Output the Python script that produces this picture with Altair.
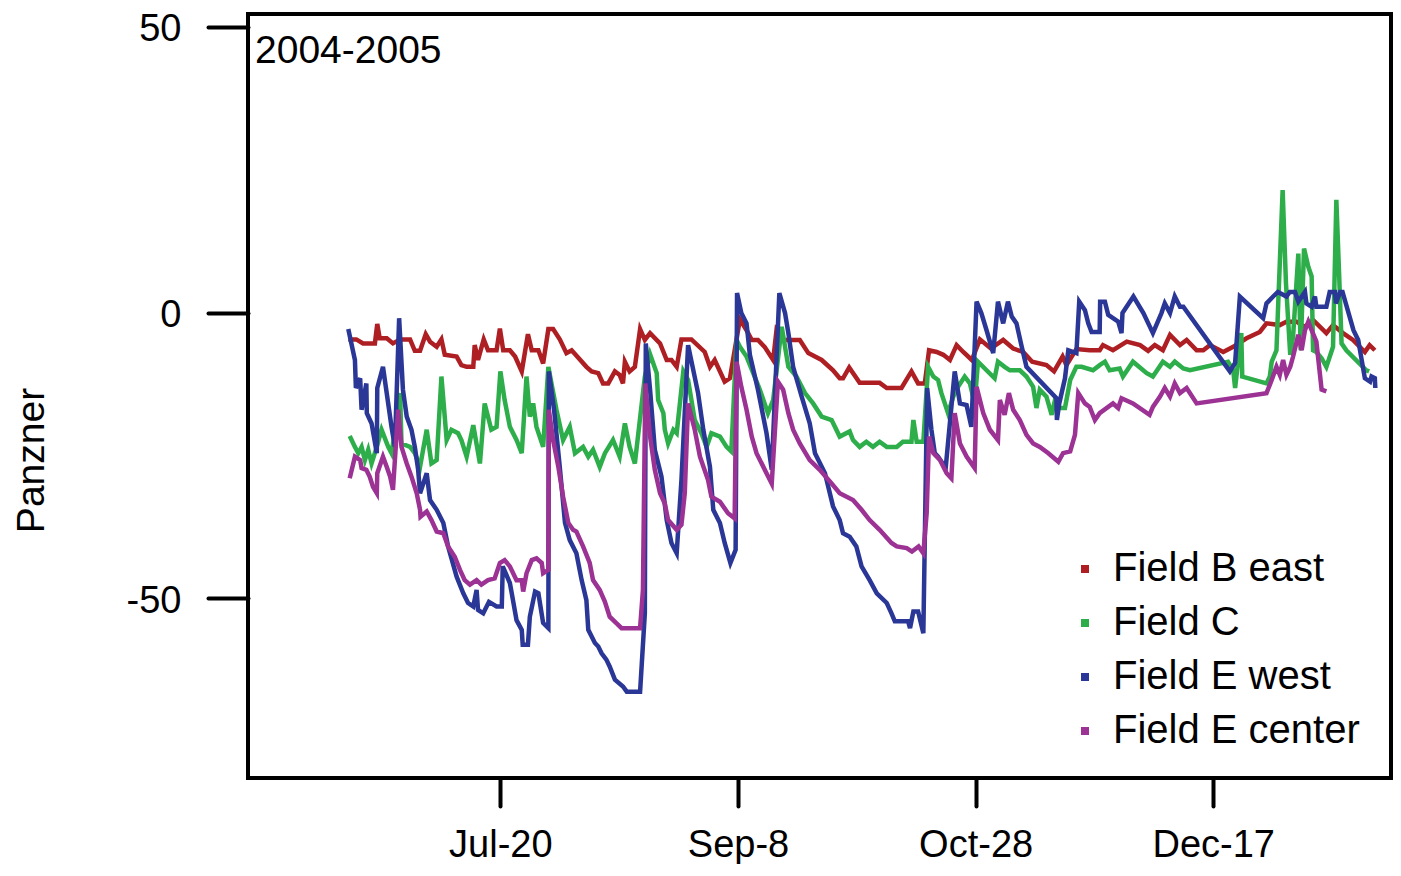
import altair as alt
import pandas as pd

# ---------------- data ----------------
series_names = ["Field B east", "Field C", "Field E west", "Field E center"]
series_colors = ["#AE1F24", "#2DAE4B", "#2A3796", "#9B3294"]

# x = days after Jul-20-2004, tick labels
tick_days = [0, 50, 100, 150]
tick_labels = ["Jul-20", "Sep-8", "Oct-28", "Dec-17"]
y_ticks = [-50, 0, 50]
period_label = "2004-2005"
y_title = "Panzner"

# (day, value) pairs per series
field_b_east = [(-32.0,-4.7),(-30.3,-4.7),(-28.9,-5.4),(-26.4,-5.4),(-25.9,-2.0),(-25.4,-4.5),(-23.9,-4.5),(-22.6,-5.4),(-21.1,-4.7),(-19.0,-4.7),(-18.0,-6.7),(-16.9,-6.7),(-15.7,-3.8),(-14.8,-5.1),(-13.4,-6.0),(-12.4,-4.7),(-11.7,-7.4),(-9.2,-7.7),(-8.2,-9.2),(-7.1,-9.5),(-5.7,-9.5),(-5.4,-5.7),(-4.7,-8.3),(-3.5,-4.7),(-2.6,-6.6),(-0.8,-6.6),(-0.1,-2.8),(0.6,-6.6),(2.0,-6.6),(3.1,-7.7),(4.5,-10.3),(5.8,-3.8),(6.6,-6.6),(8.0,-6.6),(9.0,-8.9),(10.1,-2.9),(11.1,-2.9),(12.5,-4.7),(13.9,-7.1),(15.0,-6.6),(18.1,-9.5),(19.2,-10.3),(20.6,-10.6),(21.6,-12.4),(22.7,-12.4),(24.1,-10.3),(25.1,-10.9),(25.8,-12.4),(26.2,-8.6),(27.2,-10.3),(28.3,-9.5),(29.4,-2.9),(30.4,-4.8),(31.5,-3.6),(33.6,-5.4),(35.0,-8.3),(36.0,-8.3),(37.1,-9.5),(38.1,-4.7),(40.2,-4.7),(43.0,-6.9),(44.1,-9.5),(45.1,-8.3),(47.2,-12.1),(48.3,-11.5),(50.4,-1.2),(51.8,-3.1),(52.9,-4.8),(54.2,-4.8),(55.6,-6.0),(57.4,-8.3),(58.1,-3.1),(59.5,-4.8),(63.0,-4.8),(64.8,-7.1),(66.2,-7.7),(67.6,-8.3),(70.0,-10.1),(71.4,-11.5),(72.1,-11.5),(73.4,-9.6),(75.6,-12.3),(79.8,-12.3),(81.3,-13.2),(84.4,-13.2),(86.5,-10.3),(87.9,-12.4),(89.3,-12.4),(90.2,-6.6),(91.8,-6.9),(93.2,-7.4),(94.6,-8.3),(96.0,-5.7),(97.4,-6.9),(99.2,-8.3),(100.9,-4.7),(103.2,-6.3),(105.8,-4.8),(107.9,-6.3),(110.0,-6.9),(111.9,-8.6),(114.9,-9.2),(116.5,-10.3),(118.3,-7.7),(119.1,-9.2),(121.2,-6.4),(124.0,-6.6),(126.1,-6.6),(126.8,-5.7),(128.9,-6.6),(131.8,-5.1),(134.6,-5.7),(136.3,-6.7),(137.7,-5.7),(139.4,-6.6),(140.9,-3.9),(143.0,-5.7),(144.4,-4.8),(146.5,-6.6),(147.9,-6.6),(149.3,-5.7),(152.1,-6.9),(154.2,-6.0),(157.0,-4.5),(159.8,-3.4),(161.2,-1.9),(164.0,-2.2),(165.4,-1.6),(167.5,-1.6),(169.3,-2.5),(171.0,-1.3),(173.8,-3.6),(175.2,-2.2),(177.3,-3.6),(179.4,-4.8),(181.9,-6.9),(182.9,-5.7),(184.0,-6.6)]

field_c = [(-31.7,-21.6),(-30.6,-23.5),(-29.9,-24.6),(-29.2,-23.5),(-28.5,-25.8),(-27.8,-24.0),(-27.1,-26.4),(-26.0,-23.5),(-25.0,-20.5),(-23.6,-23.5),(-22.9,-24.6),(-21.8,-18.8),(-21.1,-14.1),(-20.8,-22.9),(-19.0,-23.5),(-18.0,-24.6),(-16.9,-27.0),(-15.5,-20.5),(-14.5,-26.4),(-13.4,-25.8),(-12.4,-11.2),(-11.3,-22.3),(-10.3,-20.5),(-8.9,-21.1),(-8.2,-22.3),(-7.1,-25.2),(-5.7,-19.7),(-4.3,-26.4),(-3.3,-15.9),(-1.9,-20.5),(-0.8,-20.0),(0.0,-10.3),(0.9,-15.3),(2.0,-20.0),(3.4,-22.3),(4.5,-24.6),(5.5,-11.2),(6.2,-18.2),(6.9,-15.9),(7.6,-20.0),(9.0,-23.5),(10.1,-9.5),(11.8,-17.0),(13.2,-22.3),(14.6,-20.0),(15.7,-24.6),(17.4,-23.5),(18.5,-25.2),(19.5,-24.0),(20.9,-27.0),(22.0,-24.6),(23.7,-22.3),(25.1,-25.2),(26.2,-19.4),(27.2,-23.5),(28.3,-26.4),(30.4,-11.2),(31.5,-7.3),(32.9,-10.6),(33.2,-15.3),(34.3,-17.6),(34.6,-20.5),(35.3,-22.9),(36.4,-20.5),(37.1,-21.1),(38.5,-10.3),(39.5,-11.8),(40.9,-18.8),(42.3,-21.1),(43.4,-23.5),(44.4,-21.1),(46.2,-21.7),(47.6,-23.5),(48.6,-24.3),(49.7,-4.8),(50.4,-6.0),(51.8,-7.7),(53.5,-11.2),(54.6,-13.5),(56.3,-17.6),(57.4,-15.3),(59.2,-2.5),(60.6,-9.5),(62.3,-11.2),(64.1,-14.1),(65.8,-15.9),(67.6,-18.2),(69.7,-18.8),(71.4,-21.7),(73.5,-20.8),(74.2,-22.3),(75.6,-23.5),(77.0,-22.6),(78.4,-23.5),(79.8,-22.6),(81.3,-23.5),(83.4,-23.5),(84.7,-22.6),(86.5,-22.6),(86.9,-18.8),(87.6,-22.6),(89.0,-22.6),(90.0,-9.5),(91.1,-11.2),(92.1,-11.8),(92.8,-14.1),(94.2,-17.6),(95.3,-14.7),(96.3,-13.0),(97.7,-11.2),(98.8,-12.4),(99.8,-15.9),(100.5,-8.6),(102.3,-10.1),(104.0,-11.5),(104.7,-8.6),(106.1,-9.5),(107.2,-10.1),(109.3,-10.1),(110.7,-11.2),(112.1,-13.0),(112.8,-16.7),(113.5,-13.5),(114.9,-14.7),(116.0,-17.9),(116.7,-15.3),(117.7,-16.7),(118.8,-16.7),(119.9,-11.8),(121.2,-9.5),(122.3,-9.5),(124.7,-10.1),(126.1,-9.2),(127.2,-8.6),(128.2,-10.1),(130.3,-9.8),(131.0,-11.2),(133.1,-8.6),(136.0,-10.6),(137.3,-11.2),(139.4,-8.6),(140.9,-9.5),(141.9,-8.6),(143.7,-9.8),(145.1,-10.1),(153.1,-8.6),(154.2,-10.1),(154.6,-13.2),(155.9,-3.6),(156.1,-11.2),(161.2,-12.4),(161.9,-11.2),(162.3,-8.6),(163.3,-6.6),(163.7,2.2),(164.6,21.4),(165.3,5.1),(166.2,-7.4),(166.8,-4.2),(167.9,10.3),(168.4,-6.6),(169.1,11.2),(170.0,8.0),(170.7,6.3),(171.0,-6.6),(171.7,-6.9),(172.8,-8.0),(173.8,-9.5),(175.2,-6.0),(175.9,19.7),(176.5,6.3),(177.0,-5.4),(178.0,-6.6),(182.2,-10.1),(182.8,-10.3)]

field_e_west = [(-32.0,-2.9),(-30.6,-8.3),(-30.4,-13.2),(-29.5,-11.5),(-29.2,-17.0),(-28.2,-12.4),(-28.1,-17.6),(-27.1,-19.4),(-26.0,-24.6),(-25.9,-13.2),(-24.7,-9.5),(-22.9,-20.0),(-22.2,-23.5),(-21.3,-1.0),(-20.5,-13.5),(-19.7,-18.2),(-18.7,-20.5),(-18.0,-23.5),(-17.3,-27.5),(-16.9,-31.6),(-15.5,-28.1),(-14.8,-32.8),(-13.4,-34.5),(-12.0,-36.8),(-11.0,-40.9),(-9.2,-46.2),(-7.8,-49.1),(-6.8,-50.8),(-5.7,-51.4),(-5.0,-48.5),(-4.7,-52.0),(-3.6,-52.6),(-2.4,-50.6),(-0.8,-51.4),(0.3,-51.4),(0.5,-44.4),(2.0,-47.3),(2.4,-49.1),(3.4,-53.8),(4.5,-55.5),(4.7,-58.1),(5.8,-58.1),(6.2,-53.2),(7.3,-48.8),(8.0,-49.1),(9.0,-54.3),(10.1,-55.2),(10.2,-10.3),(11.3,-17.0),(12.5,-27.0),(13.6,-36.8),(14.6,-39.8),(16.0,-42.1),(17.1,-46.8),(18.1,-50.3),(18.5,-55.5),(19.9,-57.8),(20.6,-58.4),(21.3,-59.6),(22.3,-60.7),(23.0,-61.9),(24.1,-64.2),(25.8,-65.4),(26.6,-66.3),(29.4,-66.3),(30.4,-52.6),(30.6,-5.4),(31.5,-13.5),(32.5,-24.0),(33.9,-28.7),(35.0,-36.3),(36.0,-40.3),(37.1,-42.1),(38.1,-29.3),(39.5,-5.7),(41.6,-14.1),(42.7,-20.5),(44.1,-27.0),(44.8,-34.5),(46.2,-36.8),(47.2,-40.3),(48.4,-43.8),(49.5,-41.5),(49.8,3.4),(50.7,-0.1),(51.8,-1.9),(52.5,-7.4),(54.2,-13.5),(56.0,-21.1),(57.1,-27.5),(58.7,3.4),(59.9,-0.1),(60.6,-3.6),(61.6,-9.5),(63.4,-14.7),(65.1,-19.4),(66.2,-24.6),(68.3,-28.1),(70.0,-33.9),(71.4,-36.3),(72.1,-38.6),(73.5,-39.2),(74.9,-40.9),(76.0,-44.4),(77.7,-46.8),(79.2,-49.1),(81.3,-50.8),(82.3,-52.6),(83.0,-54.0),(85.8,-54.0),(86.2,-55.2),(86.9,-52.3),(87.9,-52.3),(89.0,-56.1),(89.8,-13.2),(90.7,-20.5),(91.4,-24.6),(92.1,-25.2),(93.7,-27.2),(95.6,-10.3),(96.7,-15.9),(98.1,-16.2),(99.1,-20.0),(100.2,1.9),(101.2,-0.1),(102.3,-3.1),(103.7,-7.1),(104.7,1.9),(105.8,-1.9),(106.8,1.9),(107.6,-0.7),(108.6,-1.9),(109.7,-6.0),(110.7,-9.5),(117.0,-15.0),(117.1,-18.8),(117.6,-15.9),(118.8,-11.5),(119.5,-6.6),(121.2,-7.1),(121.8,1.9),(123.0,0.4),(123.7,-1.9),(124.4,-3.4),(126.1,-3.4),(126.2,1.9),(127.2,1.9),(127.9,-0.4),(130.0,-1.6),(130.7,-3.6),(130.9,-0.1),(133.2,2.8),(135.3,-0.1),(137.3,-3.6),(139.1,-0.1),(139.8,1.6),(140.9,-0.1),(141.9,2.8),(143.0,1.0),(143.7,1.0),(153.5,-10.3),(154.6,-8.8),(155.6,2.8),(160.5,-1.0),(161.2,1.6),(162.6,2.8),(163.6,3.6),(165.4,2.8),(166.1,3.6),(167.2,3.6),(167.9,1.9),(169.3,3.6),(169.6,1.6),(170.7,1.0),(171.4,2.8),(171.7,1.0),(173.8,1.0),(174.5,3.6),(175.6,3.6),(175.8,1.6),(176.7,3.6),(177.2,3.6),(179.5,-3.1),(180.5,-4.8),(181.9,-11.5),(183.0,-12.1),(183.3,-11.2),(184.0,-11.5),(184.1,-13.2)]

field_e_center = [(-31.7,-29.0),(-30.6,-25.2),(-29.5,-25.8),(-29.2,-27.2),(-28.2,-27.5),(-27.5,-28.7),(-26.8,-30.5),(-26.0,-31.6),(-25.9,-28.1),(-24.7,-25.2),(-23.9,-27.0),(-23.2,-28.7),(-22.6,-31.0),(-21.5,-17.0),(-20.8,-23.5),(-19.7,-26.4),(-18.7,-28.7),(-17.6,-31.6),(-16.9,-34.5),(-16.8,-35.7),(-15.5,-34.8),(-14.5,-36.3),(-13.4,-38.3),(-12.0,-38.6),(-11.0,-40.9),(-9.6,-42.7),(-8.5,-45.0),(-7.5,-46.8),(-6.4,-47.6),(-5.0,-46.8),(-4.0,-47.6),(-2.6,-46.8),(-1.2,-46.5),(-0.1,-43.8),(0.9,-43.3),(2.0,-44.4),(3.4,-46.8),(4.5,-46.8),(4.8,-48.8),(5.5,-45.6),(6.6,-43.3),(7.6,-43.0),(8.7,-43.8),(9.0,-45.6),(10.1,-45.0),(10.2,-17.0),(11.1,-22.3),(12.2,-27.0),(13.2,-32.2),(14.3,-36.8),(15.3,-38.0),(16.0,-38.3),(17.4,-40.9),(18.8,-43.8),(19.5,-46.8),(20.9,-48.5),(22.0,-50.6),(23.0,-53.2),(24.4,-54.3),(25.5,-55.2),(29.4,-55.2),(30.0,-48.5),(30.5,-12.4),(31.5,-21.7),(32.5,-27.5),(33.6,-31.6),(34.6,-33.4),(35.3,-36.3),(37.1,-38.0),(38.1,-37.1),(38.8,-31.6),(39.5,-15.9),(40.9,-20.5),(42.0,-25.2),(43.7,-29.3),(44.4,-32.2),(46.2,-33.1),(47.9,-35.1),(49.3,-36.0),(49.7,-8.6),(50.7,-13.0),(51.8,-17.0),(52.9,-21.7),(53.9,-24.6),(56.0,-28.1),(57.1,-29.9),(58.4,-12.1),(59.5,-13.5),(60.6,-17.6),(61.6,-20.5),(63.0,-22.9),(65.1,-25.8),(67.2,-27.5),(69.7,-29.9),(71.4,-31.6),(74.2,-32.8),(76.0,-34.5),(77.7,-36.3),(79.8,-38.0),(82.3,-40.3),(83.4,-40.9),(85.5,-41.2),(86.6,-41.8),(88.0,-40.9),(89.0,-42.1),(89.7,-35.1),(90.2,-21.7),(91.1,-24.6),(92.5,-25.8),(93.9,-28.1),(94.9,-29.0),(95.6,-17.6),(96.7,-22.9),(98.1,-25.2),(99.8,-27.2),(100.2,-13.0),(101.6,-17.6),(103.0,-20.5),(104.7,-22.3),(105.1,-15.3),(106.1,-17.9),(107.0,-14.1),(107.9,-17.0),(109.3,-18.8),(110.7,-21.4),(112.1,-22.9),(113.5,-23.5),(115.3,-24.6),(117.4,-26.1),(118.4,-24.6),(119.9,-24.3),(120.9,-21.4),(121.6,-14.1),(123.0,-15.9),(124.0,-16.5),(125.1,-18.8),(126.1,-17.6),(128.9,-15.9),(130.0,-16.7),(130.7,-15.0),(133.1,-15.9),(136.6,-17.9),(137.3,-16.5),(138.8,-14.7),(139.8,-13.2),(140.9,-14.7),(141.9,-12.4),(143.0,-14.1),(144.4,-13.2),(146.5,-15.9),(161.2,-14.1),(162.3,-11.8),(163.3,-9.5),(164.0,-10.9),(164.7,-8.3),(165.4,-10.9),(166.2,-9.5),(166.8,-7.7),(167.9,-3.9),(168.6,-6.6),(169.3,-3.1),(170.0,-1.6),(170.7,-3.1),(171.7,-5.1),(172.8,-13.5),(173.8,-13.8)]

# ---------------- table ----------------
rows = []
for name, pts in zip(series_names, [field_b_east, field_c, field_e_west, field_e_center]):
    for i, (d, v) in enumerate(pts):
        rows.append({"series": name, "day": d, "value": v, "idx": i})
df = pd.DataFrame(rows)

x_label_expr = " : ".join(
    f"datum.value == {d} ? '{lab}'" for d, lab in zip(tick_days, tick_labels)
) + " : ''"

FONT = "Liberation Sans"

lines = alt.Chart(df).mark_line(strokeWidth=4.5, clip=True).encode(
    x=alt.X(
        "day:Q",
        scale=alt.Scale(domain=[-53.1, 187.4], nice=False, zero=False),
        axis=alt.Axis(
            values=tick_days, labelExpr=x_label_expr, title=None, domain=False, grid=False,
            tickSize=28, tickWidth=4, tickColor="black", tickCap="round",
            labelFontSize=38, labelFont=FONT, labelColor="black", labelPadding=20,
            labelOverlap=False, labelBound=False, labelFlush=False,
        ),
    ),
    y=alt.Y(
        "value:Q",
        scale=alt.Scale(domain=[-81.4, 52.2], nice=False, zero=False),
        axis=alt.Axis(
            values=y_ticks, labelExpr="'' + datum.value", title=y_title, domain=False, grid=False,
            tickSize=40, tickWidth=4, tickColor="black", tickCap="round",
            labelFontSize=38, labelFont=FONT, labelColor="black", labelPadding=27,
            labelOffset=3, labelOverlap=False, labelBound=False, labelFlush=False,
            titleFontSize=39, titleFont=FONT, titleFontWeight="normal", titleColor="black",
            titleAngle=270, titleX=-217, titleY=446, titleAlign="center", titleBaseline="middle",
        ),
    ),
    color=alt.Color(
        "series:N",
        scale=alt.Scale(domain=series_names, range=series_colors),
        legend=alt.Legend(
            title=None, orient="none", legendX=817, legendY=535, padding=0,
            symbolType="square", symbolSize=16, symbolStrokeWidth=4,
            labelFontSize=40, labelFont=FONT, labelColor="black", labelOffset=8,
            rowPadding=14, labelLimit=0,
        ),
    ),
    order=alt.Order("idx:Q"),
)

label_df = pd.DataFrame({"label": [period_label]})
period = alt.Chart(label_df).mark_text(
    align="left", baseline="alphabetic", fontSize=39, font=FONT, color="black"
).encode(x=alt.value(7), y=alt.value(49), text="label:N")

chart = alt.layer(lines, period).properties(
    width=1143,
    height=764,
    padding={"left": 240, "top": 6, "right": 2, "bottom": 86},
    autosize=alt.AutoSizeParams(type="none"),
).configure(background="white").configure_view(stroke="black", strokeWidth=4)

chart.save("out.html", embed_options={"renderer": "svg", "actions": False})
